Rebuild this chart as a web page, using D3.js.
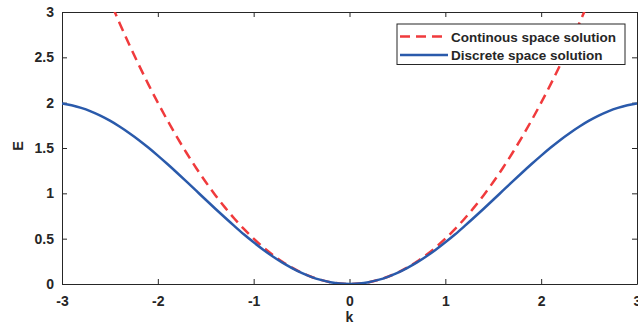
<!DOCTYPE html>
<html>
<head>
<meta charset="utf-8">
<script src="https://cdn.jsdelivr.net/npm/d3@7"></script>
<style>
  body { margin: 0; background: #fff; }
  text { font-family: "Liberation Sans", Arial, sans-serif; font-weight: bold; fill: #262626; }
</style>
</head>
<body>
<svg id="chart" width="638" height="328"></svg>
<script>
// wave numbers sampled along the x axis
var kValues = [-3.0,-2.9,-2.8,-2.7,-2.6,-2.5,-2.4,-2.3,-2.2,-2.1,-2.0,-1.9,-1.8,-1.7,-1.6,-1.5,-1.4,-1.3,-1.2,-1.1,-1.0,
  -0.9,-0.8,-0.7,-0.6,-0.5,-0.4,-0.3,-0.2,-0.1,0.0,0.1,0.2,0.3,0.4,0.5,0.6,0.7,0.8,0.9,1.0,
  1.1,1.2,1.3,1.4,1.5,1.6,1.7,1.8,1.9,2.0,2.1,2.2,2.3,2.4,2.5,2.6,2.7,2.8,2.9,3.0];

// discrete space solution (blue solid)
var discreteE = [1.990,1.971,1.942,1.904,1.857,1.801,1.737,1.666,1.589,1.505,1.416,1.323,1.227,1.129,1.029,0.929,0.830,0.733,0.638,0.546,0.460,
  0.378,0.303,0.235,0.175,0.122,0.079,0.045,0.020,0.005,0.000,0.005,0.020,0.045,0.079,0.122,0.175,0.235,0.303,0.378,0.460,
  0.546,0.638,0.733,0.830,0.929,1.029,1.129,1.227,1.323,1.416,1.505,1.589,1.666,1.737,1.801,1.857,1.904,1.942,1.971,1.990];

// continuous space solution (red dashed), leaves the axes above E = 3
var contK = [-2.6,-2.5,-2.4,-2.3,-2.2,-2.1,-2.0,-1.9,-1.8,-1.7,-1.6,-1.5,-1.4,-1.3,-1.2,-1.1,-1.0,
  -0.9,-0.8,-0.7,-0.6,-0.5,-0.4,-0.3,-0.2,-0.1,0.0,0.1,0.2,0.3,0.4,0.5,0.6,0.7,0.8,0.9,1.0,
  1.1,1.2,1.3,1.4,1.5,1.6,1.7,1.8,1.9,2.0,2.1,2.2,2.3,2.4,2.5,2.6];
var contE = [3.380,3.125,2.880,2.645,2.420,2.205,2.000,1.805,1.620,1.445,1.280,1.125,0.980,0.845,0.720,0.605,0.500,
  0.405,0.320,0.245,0.180,0.125,0.080,0.045,0.020,0.005,0.000,0.005,0.020,0.045,0.080,0.125,0.180,0.245,0.320,0.405,0.500,
  0.605,0.720,0.845,0.980,1.125,1.280,1.445,1.620,1.805,2.000,2.205,2.420,2.645,2.880,3.125,3.380];

var xTicks = [-3, -2, -1, 0, 1, 2, 3];
var yTicks = [0, 0.5, 1, 1.5, 2, 2.5, 3];
var legendLabels = ["Continous space solution", "Discrete space solution"];

var red = "#f03a3c", blue = "#2a5aab";

var svg = d3.select("#chart");
var mLeft = 62, mRight = 637, mTop = 12, mBottom = 284;

var x = d3.scaleLinear().domain([-3, 3]).range([mLeft, mRight]);
var y = d3.scaleLinear().domain([0, 3]).range([mBottom, mTop]);

// plain hyphen minus like the original figure
var fmt = function(d) { return String(d); };

svg.append("defs").append("clipPath").attr("id", "plotClip")
  .append("rect").attr("x", mLeft).attr("y", mTop)
  .attr("width", mRight - mLeft).attr("height", mBottom - mTop);

// axes with inward ticks, MATLAB style
var xAxis = svg.append("g").attr("transform", "translate(0," + mBottom + ")")
  .call(d3.axisBottom(x).tickValues(xTicks).tickSizeInner(-5).tickSizeOuter(0).tickPadding(12.5).tickFormat(fmt));
var xTop = svg.append("g").attr("transform", "translate(0," + mTop + ")")
  .call(d3.axisTop(x).tickValues(xTicks).tickSizeInner(-5).tickSizeOuter(0).tickFormat(""));
var yAxis = svg.append("g").attr("transform", "translate(" + mLeft + ",0)")
  .call(d3.axisLeft(y).tickValues(yTicks).tickSizeInner(-5).tickSizeOuter(0).tickPadding(8).tickFormat(fmt));
var yRight = svg.append("g").attr("transform", "translate(" + mRight + ",0)")
  .call(d3.axisRight(y).tickValues(yTicks).tickSizeInner(-5).tickSizeOuter(0).tickFormat(""));

[xAxis, xTop, yAxis, yRight].forEach(function(g) {
  g.selectAll("path").attr("stroke", "#262626").attr("stroke-width", 1);
  g.selectAll("line").attr("stroke", "#262626");
  g.selectAll("text").attr("font-size", 14).attr("fill", "#262626")
    .style("font-family", "Liberation Sans, Arial, sans-serif").style("font-weight", "bold");
});

// curves
var plot = svg.append("g").attr("clip-path", "url(#plotClip)");

var line = d3.line()
  .x(function(d) { return x(d[0]); })
  .y(function(d) { return y(d[1]); })
  .curve(d3.curveCatmullRom);

plot.append("path")
  .datum(d3.zip(contK, contE))
  .attr("d", line)
  .attr("fill", "none")
  .attr("stroke", red)
  .attr("stroke-width", 2.5)
  .attr("stroke-dasharray", "10,6");

plot.append("path")
  .datum(d3.zip(kValues, discreteE))
  .attr("d", line)
  .attr("fill", "none")
  .attr("stroke", blue)
  .attr("stroke-width", 2.5);

// axis labels
svg.append("text").attr("x", (mLeft + mRight) / 2).attr("y", 322)
  .attr("text-anchor", "middle").attr("font-size", 14).text("k");
svg.append("text").attr("transform", "translate(23,146) rotate(-90)")
  .attr("text-anchor", "middle").attr("font-size", 14.5).text("E");

// legend
var legend = svg.append("g");
legend.append("rect").attr("x", 397).attr("y", 24).attr("width", 228).attr("height", 40.5)
  .attr("fill", "#fff").attr("stroke", "#262626").attr("stroke-width", 1);
var legendStyles = [{ color: red, dash: "10,6" }, { color: blue, dash: null }];
legendLabels.forEach(function(lbl, i) {
  var ly = 36.5 + i * 18.5;
  legend.append("line").attr("x1", 400).attr("x2", 448).attr("y1", ly).attr("y2", ly)
    .attr("stroke", legendStyles[i].color).attr("stroke-width", 2.5)
    .attr("stroke-dasharray", legendStyles[i].dash);
  legend.append("text").attr("x", 451).attr("y", ly + 5).attr("font-size", 13.5).text(lbl);
});
</script>
</body>
</html>
